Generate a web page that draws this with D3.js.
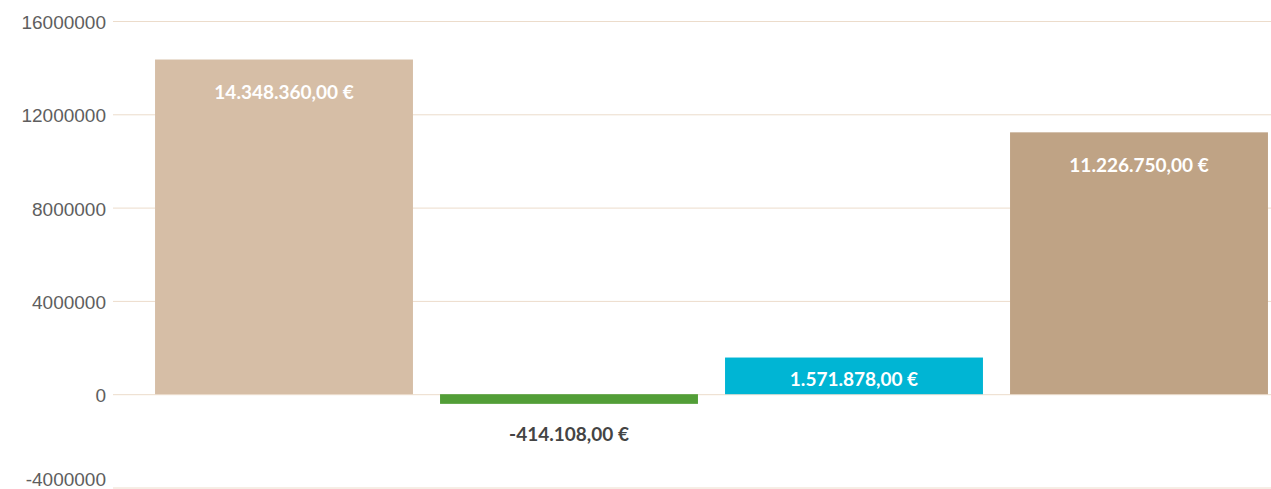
<!DOCTYPE html>
<html>
<head>
<meta charset="utf-8">
<script src="https://cdn.jsdelivr.net/npm/d3@7/dist/d3.min.js"></script>
<style>
  body { margin: 0; background: #fff; }
  svg { display: block; font-family: Lato, "Open Sans", sans-serif; }
  .y.axis .domain { display: none; }
  .y.axis line { stroke: #ecdccb; stroke-width: 1; }
  .y.axis text { fill: #5e5e5e; font-size: 19px; }
  .value { font-size: 19px; font-weight: 700; text-anchor: middle; }
</style>
</head>
<body>
<div id="chart"></div>
<script>
// Data
var categories = ["A", "B", "C", "D"];
var values = [14348360, -414108, 1571878, 11226750];
var barColors = ["#d6bea6", "#529e37", "#00b5d4", "#bfa385"];
var yTicks = [-4000000, 0, 4000000, 8000000, 12000000, 16000000];

var width = 1271;
var height = 489;
var margins = { top: 21, right: 0, bottom: 0, left: 113 };

var euro = function (v) {
  var s = Math.abs(v).toFixed(2).split(".");
  var int = s[0].replace(/\B(?=(\d{3})+(?!\d))/g, ".");
  return (v < 0 ? "-" : "") + int + "," + s[1] + " €";
};

var svg = d3.select("#chart").append("svg").attr("width", width).attr("height", height);

var yScale = d3.scaleLinear().domain([-4000000, 16000000]).range([487.5, margins.top]);

var xScale = d3.scaleBand().domain(categories).range([141.5, 1281.5]).paddingInner(0.095).paddingOuter(0.0475);

// Gridlines + tick labels (plain hyphen minus, no grouping)
var yAxis = d3.axisLeft(yScale).tickValues(yTicks).tickSize(-(width - margins.left)).tickPadding(7).tickFormat((d) => String(d));

var axisG = svg.append("g")
  .attr("class", "y axis")
  .attr("transform", `translate(${margins.left},0)`)
  .call(yAxis);

// keep the lowest label inside the picture
axisG.selectAll(".tick text")
  .attr("dy", (d) => (d === yTicks[0] ? "-0.1em" : "0.4em"));

// Bars
svg.append("g")
  .selectAll("rect")
  .data(values)
  .enter()
  .append("rect")
  .attr("x", (d, i) => xScale(categories[i]))
  .attr("y", (d) => yScale(Math.max(0, d)))
  .attr("width", xScale.bandwidth())
  .attr("height", (d) => Math.abs(yScale(d) - yScale(0)))
  .style("fill", (d, i) => barColors[i]);

// Value labels
svg.append("g")
  .selectAll("text")
  .data(values)
  .enter()
  .append("text")
  .attr("class", "value")
  .attr("x", (d, i) => xScale(categories[i]) + xScale.bandwidth() / 2)
  .attr("y", function (d) {
    if (d < 0) return yScale(d) + 30;
    var top = yScale(d);
    var mid = (top + yScale(0)) / 2;
    return Math.min(top + 33, mid + 3);
  })
  .attr("dy", "0.35em")
  .style("fill", (d) => (d < 0 ? "#444" : "#fff"))
  .text((d) => euro(d));
</script>
</body>
</html>
